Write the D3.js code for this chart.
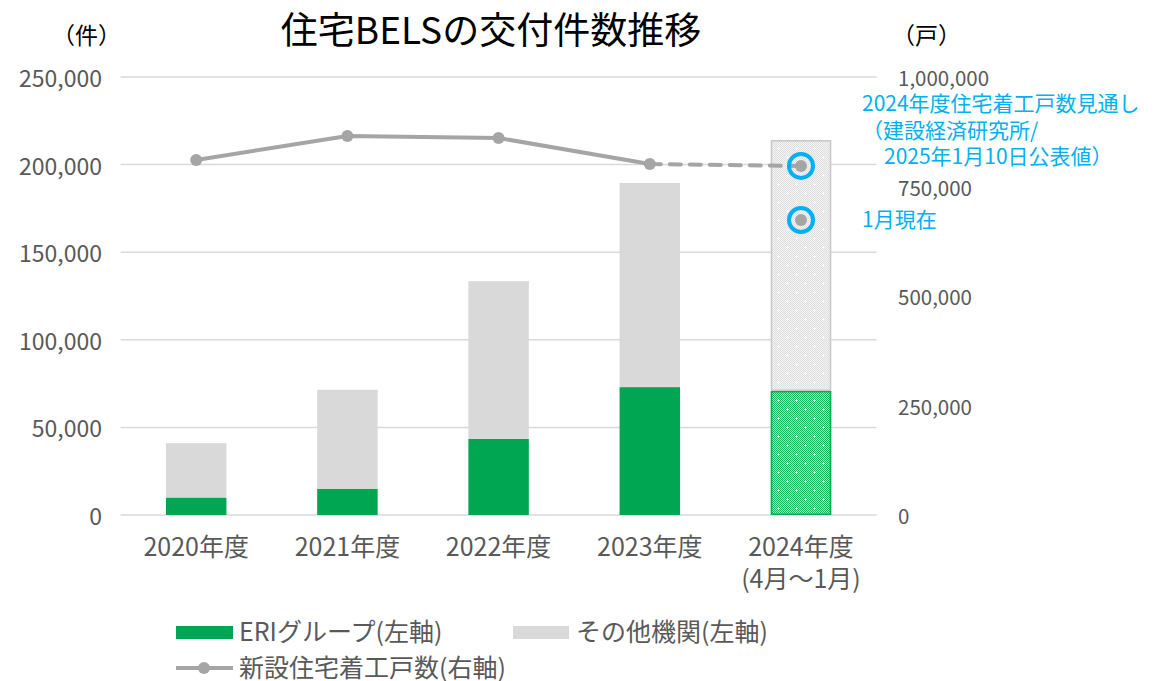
<!DOCTYPE html>
<html>
<head>
<meta charset="utf-8">
<script src="https://cdn.jsdelivr.net/npm/d3@7"></script>
<style>
  body { margin: 0; background: #fff; }
  text { font-family: "Noto Sans CJK JP", "Noto Sans", sans-serif; }
</style>
</head>
<body>
<div id="chart"></div>
<script>
// data
var categories = ["2020年度", "2021年度", "2022年度", "2023年度", "2024年度"];
var tickLabels = [["2020年度"], ["2021年度"], ["2022年度"], ["2023年度"], ["2024年度", "(4月～1月)"]];
var eriValues = [10000, 15000, 43500, 73000, 70800];      // ERIグループ
var otherValues = [31000, 56500, 90000, 116500, 143200];  // その他機関
var housingStarts = [810500, 865300, 860700, 801400];     // 2020-2023 新設住宅着工戸数
var housingForecast = 797000;   // 2024 見通し
var housingToJan = 673500;      // 2024 1月現在
var leftTicks = [0, 50000, 100000, 150000, 200000, 250000];
var rightTicks = [0, 250000, 500000, 750000, 1000000];
var partialYear = "2024年度";

var W = 1155, H = 681;
var green = "#00a651", grey = "#d9d9d9", lineGrey = "#a5a5a5", blue = "#00b0f0", txt = "#595959";

var svg = d3.select("#chart").append("svg")
    .attr("width", W)
    .attr("height", H);

var defs = svg.append("defs");

// checker patterns for the partial year bar
function checker(id, light, dark) {
    var p = defs.append("pattern")
        .attr("id", id)
        .attr("patternUnits", "userSpaceOnUse")
        .attr("width", 2).attr("height", 2);
    p.append("rect").attr("width", 2).attr("height", 2).attr("fill", light);
    p.append("rect").attr("x", 0).attr("y", 0).attr("width", 1).attr("height", 1).attr("fill", dark);
    p.append("rect").attr("x", 1).attr("y", 1).attr("width", 1).attr("height", 1).attr("fill", dark);
}
checker("checkGreen", "#a6e4c2", "#12b35c");
checker("checkGrey", "#f4f4f4", "#dedede");

var sp = defs.append("pattern")
    .attr("id", "sparkle")
    .attr("patternUnits", "userSpaceOnUse")
    .attr("width", 18).attr("height", 18);
sp.append("path")
    .attr("d", "M3,4.5h3M4.5,3v3M12,13.5h3M13.5,12v3")
    .attr("stroke", "#fff")
    .attr("stroke-width", 1);

var x = d3.scaleBand()
    .domain(categories)
    .range([120.6, 876.6])
    .paddingInner(0.6)
    .paddingOuter(0.3);

var yL = d3.scaleLinear().domain([0, 250000]).range([515, 77]);
var yR = d3.scaleLinear().domain([0, 1000000]).range([515, 77]);

// gridlines
svg.append("g")
    .selectAll("line")
    .data(leftTicks)
    .enter().append("line")
    .attr("x1", 120.6)
    .attr("x2", 876.6)
    .attr("y1", (d) => yL(d))
    .attr("y2", (d) => yL(d))
    .style("stroke", grey)
    .style("stroke-width", 1.5);

// left axis labels
svg.append("g")
    .selectAll("text")
    .data(leftTicks)
    .enter().append("text")
    .attr("x", 102)
    .attr("y", (d) => yL(d))
    .attr("text-anchor", "end")
    .attr("dominant-baseline", "central")
    .style("font-size", "23px")
    .style("fill", txt)
    .text((d) => d3.format(",")(d));

// right axis labels
svg.append("g")
    .selectAll("text")
    .data(rightTicks)
    .enter().append("text")
    .attr("x", 898)
    .attr("y", (d) => yR(d))
    .attr("dominant-baseline", "central")
    .style("font-size", "20.5px")
    .style("fill", txt)
    .text((d) => d3.format(",")(d));

// stacked bars
var rows = categories.map((c, i) => ({ cat: c, eri: eriValues[i], other: otherValues[i] }));
var stack = d3.stack().keys(["eri", "other"])(rows);

stack.forEach((layer) => {
    var g = svg.append("g");
    layer.forEach((d) => {
        var cat = d.data.cat;
        var rx = x(cat), rw = x.bandwidth();
        var ry = yL(d[1]), rh = yL(d[0]) - yL(d[1]);
        if (cat === partialYear) {
            var isEri = layer.key === "eri";
            g.append("rect")
                .attr("x", rx).attr("y", ry).attr("width", rw).attr("height", rh)
                .attr("fill", isEri ? "url(#checkGreen)" : "url(#checkGrey)");
            g.append("rect")
                .attr("x", rx).attr("y", ry).attr("width", rw).attr("height", rh)
                .attr("fill", "url(#sparkle)");
            g.append("rect")
                .attr("x", rx + 0.75).attr("y", ry + 0.75).attr("width", rw - 1.5).attr("height", rh - 1.5)
                .attr("fill", "none")
                .style("stroke", isEri ? "#00b050" : "#c8c8c8")
                .style("stroke-width", 1.5);
        } else {
            g.append("rect")
                .attr("x", rx).attr("y", ry).attr("width", rw).attr("height", rh)
                .attr("fill", layer.key === "eri" ? green : grey);
        }
    });
});

// line (right axis)
var cx = (i) => x(categories[i]) + x.bandwidth() / 2;
var linePts = housingStarts.map((v, i) => [cx(i), yR(v)]);
var lastIdx = categories.length - 1;

svg.append("path")
    .attr("d", d3.line()(linePts))
    .attr("fill", "none")
    .style("stroke", lineGrey)
    .style("stroke-width", 4)
    .style("stroke-linejoin", "round");

svg.append("path")
    .attr("d", d3.line()([linePts[linePts.length - 1], [cx(lastIdx), yR(housingForecast)]]))
    .attr("fill", "none")
    .style("stroke", lineGrey)
    .style("stroke-width", 4)
    .style("stroke-linecap", "round")
    .style("stroke-dasharray", "11,9");

var markers = linePts.concat([[cx(lastIdx), yR(housingForecast)], [cx(lastIdx), yR(housingToJan)]]);
svg.append("g")
    .selectAll("circle")
    .data(markers)
    .enter().append("circle")
    .attr("cx", (d) => d[0])
    .attr("cy", (d) => d[1])
    .attr("r", 6)
    .style("fill", lineGrey);

// blue highlight rings
svg.append("g")
    .selectAll("circle")
    .data([housingForecast, housingToJan])
    .enter().append("circle")
    .attr("cx", cx(lastIdx))
    .attr("cy", (d) => yR(d))
    .attr("r", 12)
    .style("fill", "none")
    .style("stroke", blue)
    .style("stroke-width", 4);

// x labels
categories.forEach((c, i) => {
    tickLabels[i].forEach((t, j) => {
        svg.append("text")
            .attr("x", cx(i))
            .attr("y", 556 + j * 32)
            .attr("text-anchor", "middle")
            .style("font-size", "25px")
            .style("fill", txt)
            .text(t);
    });
});

// title and units
svg.append("text")
    .attr("x", 491)
    .attr("y", 44)
    .attr("text-anchor", "middle")
    .style("font-size", "37px")
    .style("fill", "#000")
    .text("住宅BELSの交付件数推移");

svg.append("text")
    .attr("x", 52).attr("y", 44)
    .style("font-size", "23px").style("fill", "#000")
    .text("（件）");

svg.append("text")
    .attr("x", 892).attr("y", 44)
    .style("font-size", "23px").style("fill", "#000")
    .text("（戸）");

// annotations
var notes = [
    ["2024年度住宅着工戸数見通し", 862, 111],
    ["（建設経済研究所/", 862, 138],
    ["2025年1月10日公表値）", 884, 164],
    ["1月現在", 862, 227]
];
svg.append("g")
    .selectAll("text")
    .data(notes)
    .enter().append("text")
    .attr("x", (d) => d[1])
    .attr("y", (d) => d[2])
    .style("font-size", "21px")
    .style("fill", blue)
    .text((d) => d[0]);

// legend
var leg = svg.append("g");
leg.append("rect").attr("x", 176).attr("y", 626).attr("width", 57).attr("height", 13).attr("fill", green);
leg.append("text").attr("x", 239).attr("y", 641).style("font-size", "25px").style("fill", txt).text("ERIグループ(左軸)");
leg.append("rect").attr("x", 513).attr("y", 626).attr("width", 56).attr("height", 13).attr("fill", grey);
leg.append("text").attr("x", 576).attr("y", 641).style("font-size", "25px").style("fill", txt).text("その他機関(左軸)");
leg.append("line").attr("x1", 176).attr("x2", 233).attr("y1", 668).attr("y2", 668)
    .style("stroke", lineGrey).style("stroke-width", 4);
leg.append("circle").attr("cx", 204).attr("cy", 668).attr("r", 6).style("fill", lineGrey);
leg.append("text").attr("x", 239).attr("y", 677).style("font-size", "25px").style("fill", txt).text("新設住宅着工戸数(右軸)");
</script>
</body>
</html>
